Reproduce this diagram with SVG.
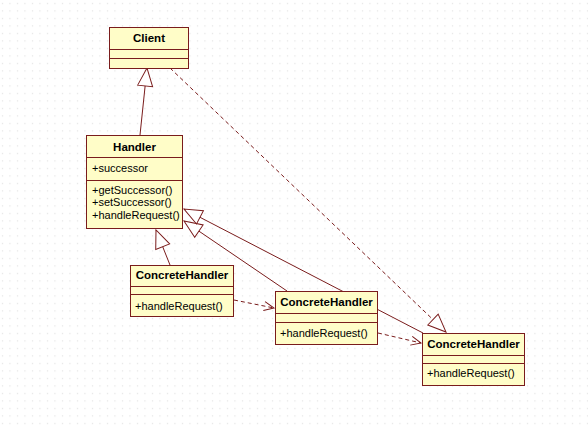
<svg xmlns="http://www.w3.org/2000/svg" width="588" height="427" viewBox="0 0 588 427">
<style>
.box{fill:#fffdc8;stroke:#7a1c1c;stroke-width:1}
.sep{stroke:#7a1c1c;stroke-width:1}
.t{font-family:"Liberation Sans",Arial,sans-serif;font-size:11px;fill:#000}
.b{font-weight:bold;text-anchor:middle;font-size:11.5px}
.ln{stroke:#7a1c1c;stroke-width:1;fill:none}
.dash{stroke-dasharray:4,3}
</style>
<defs>
<pattern id="grid" width="7.5" height="7.5" patternUnits="userSpaceOnUse">
<rect x="2" y="3" width="1" height="1" fill="#d4d4d4"/>
</pattern>
<marker id="tri" markerUnits="userSpaceOnUse" viewBox="-1 -9 21 18" markerWidth="21" markerHeight="18" refX="18" refY="0" orient="auto" overflow="visible">
<path d="M0,-7.5 L18,0 L0,7.5 Z" fill="#ffffff" stroke="#7a1c1c" stroke-width="1"/>
</marker>
<marker id="open" markerUnits="userSpaceOnUse" viewBox="-11 -6 12 12" markerWidth="12" markerHeight="12" refX="0" refY="0" orient="auto" overflow="visible">
<path d="M-10,-4.5 L0,0 L-10,4.5" fill="none" stroke="#7a1c1c" stroke-width="1"/>
</marker>
</defs>
<rect width="588" height="427" fill="#ffffff"/>
<rect width="588" height="427" fill="url(#grid)"/>
<g id="connectors">
<line class="ln" x1="140" y1="135" x2="147" y2="68" marker-end="url(#tri)"/>
<line class="ln" x1="170" y1="265" x2="156" y2="230" marker-end="url(#tri)"/>
<line class="ln" x1="287" y1="291" x2="184" y2="221" marker-end="url(#tri)"/>
<line class="ln" x1="423" y1="333" x2="184" y2="209" marker-end="url(#tri)"/>
<line class="ln dash" x1="170" y1="68" x2="446" y2="332" marker-end="url(#tri)"/>
<line class="ln dash" x1="234" y1="300" x2="274" y2="308" marker-end="url(#open)"/>
<line class="ln dash" x1="378" y1="333" x2="421" y2="343" marker-end="url(#open)"/>
</g>
<g id="client">
<rect class="box" x="109.5" y="27.5" width="79" height="41"/>
<line class="sep" x1="109.5" y1="49.5" x2="188.5" y2="49.5"/>
<line class="sep" x1="109.5" y1="58.5" x2="188.5" y2="58.5"/>
<text class="t b" x="149" y="42">Client</text>
</g>
<g id="handler">
<rect class="box" x="86.5" y="135.5" width="96" height="93"/>
<line class="sep" x1="86.5" y1="157.5" x2="182.5" y2="157.5"/>
<line class="sep" x1="86.5" y1="180.5" x2="182.5" y2="180.5"/>
<text class="t b" x="134.5" y="151">Handler</text>
<text class="t" x="92" y="172">+successor</text>
<text class="t" x="92" y="193.5">+getSuccessor()</text>
<text class="t" x="92" y="206">+setSuccessor()</text>
<text class="t" x="92" y="218.5">+handleRequest()</text>
</g>
<g id="concrete1">
<rect class="box" x="130.5" y="265.5" width="103" height="51"/>
<line class="sep" x1="130.5" y1="286.5" x2="233.5" y2="286.5"/>
<line class="sep" x1="130.5" y1="294.5" x2="233.5" y2="294.5"/>
<text class="t b" x="182" y="279">ConcreteHandler</text>
<text class="t" x="135" y="309.5">+handleRequest()</text>
</g>
<g id="concrete2">
<rect class="box" x="275.5" y="291.5" width="102" height="53"/>
<line class="sep" x1="275.5" y1="313.5" x2="377.5" y2="313.5"/>
<line class="sep" x1="275.5" y1="322.5" x2="377.5" y2="322.5"/>
<text class="t b" x="326.5" y="306">ConcreteHandler</text>
<text class="t" x="280" y="337">+handleRequest()</text>
</g>
<g id="concrete3">
<rect class="box" x="422.5" y="333.5" width="102" height="52"/>
<line class="sep" x1="422.5" y1="355.5" x2="524.5" y2="355.5"/>
<line class="sep" x1="422.5" y1="363.5" x2="524.5" y2="363.5"/>
<text class="t b" x="473.5" y="347.5">ConcreteHandler</text>
<text class="t" x="427" y="377">+handleRequest()</text>
</g>
</svg>
